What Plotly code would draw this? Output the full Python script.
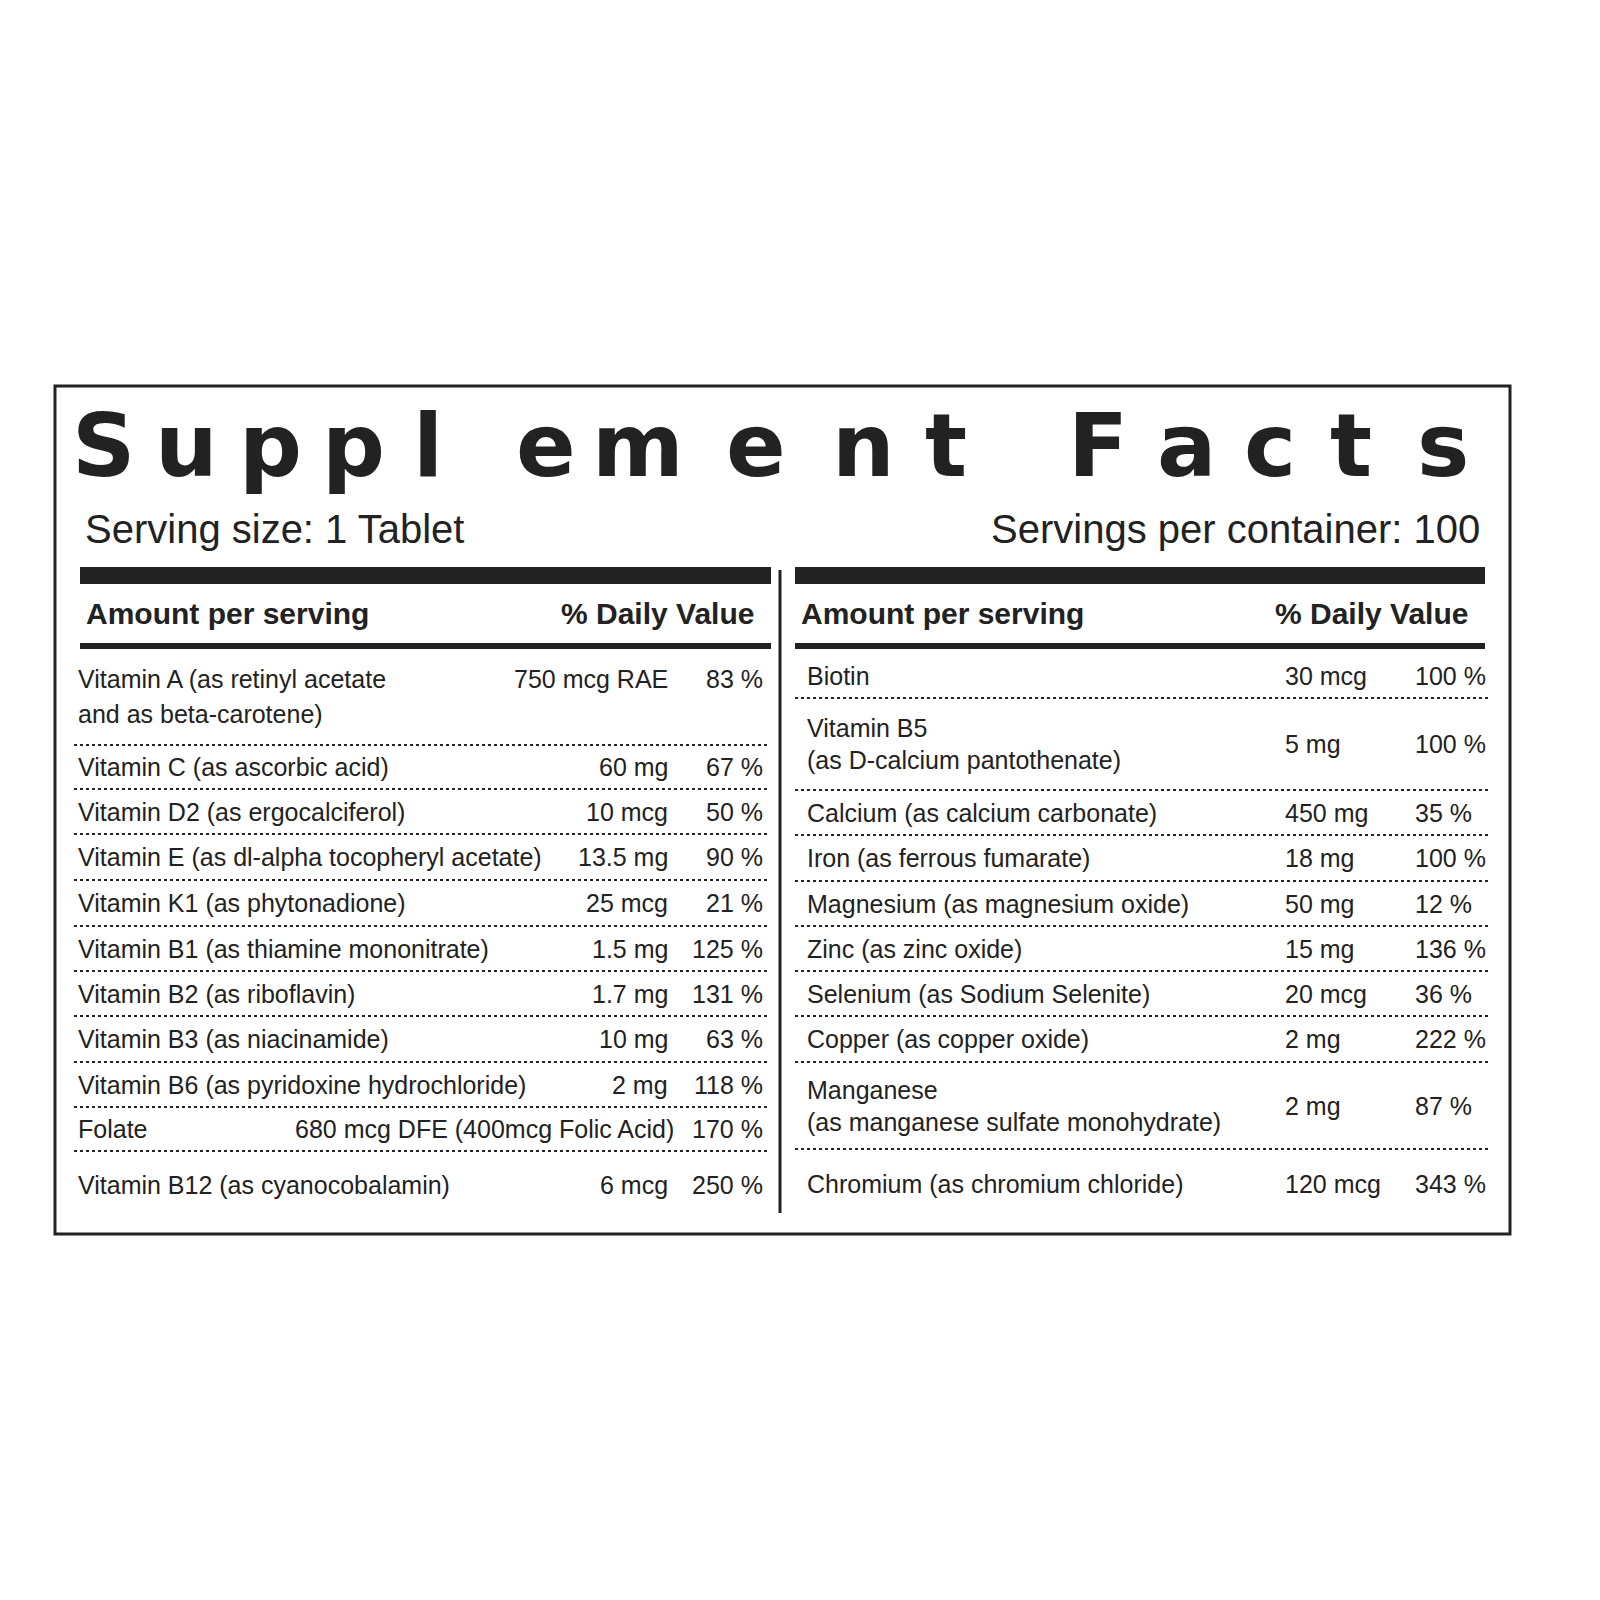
import plotly.graph_objects as go

title_chars = list("Supplement Facts")
title_x = [95, 178, 262, 345, 420, 538, 630, 748, 855, 938, 1000, 1090, 1178, 1262, 1343, 1435]

left_names = [["Vitamin A (as retinyl acetate", "and as beta-carotene)"],
              ["Vitamin C (as ascorbic acid)"], ["Vitamin D2 (as ergocalciferol)"],
              ["Vitamin E (as dl-alpha tocopheryl acetate)"], ["Vitamin K1 (as phytonadione)"],
              ["Vitamin B1 (as thiamine mononitrate)"], ["Vitamin B2 (as riboflavin)"],
              ["Vitamin B3 (as niacinamide)"], ["Vitamin B6 (as pyridoxine hydrochloride)"],
              ["Folate"], ["Vitamin B12 (as cyanocobalamin)"]]
left_amounts = ["750 mcg RAE", "60 mg", "10 mcg", "13.5 mg", "25 mcg", "1.5 mg", "1.7 mg",
                "10 mg", "2 mg", "680 mcg DFE (400mcg Folic Acid)", "6 mcg"]
left_dv = ["83 %", "67 %", "50 %", "90 %", "21 %", "125 %", "131 %", "63 %", "118 %", "170 %", "250 %"]

right_names = [["Biotin"], ["Vitamin B5", "(as D-calcium pantothenate)"],
               ["Calcium (as calcium carbonate)"], ["Iron (as ferrous fumarate)"],
               ["Magnesium (as magnesium oxide)"], ["Zinc (as zinc oxide)"],
               ["Selenium (as Sodium Selenite)"], ["Copper (as copper oxide)"],
               ["Manganese", "(as manganese sulfate monohydrate)"],
               ["Chromium (as chromium chloride)"]]
right_amounts = ["30 mcg", "5 mg", "450 mg", "18 mg", "50 mg", "15 mg", "20 mcg", "2 mg", "2 mg", "120 mcg"]
right_dv = ["100 %", "100 %", "35 %", "100 %", "12 %", "136 %", "36 %", "222 %", "87 %", "343 %"]

# row layout (pixel y of row tops / bottoms)
left_bounds = [648, 737, 781, 826, 872, 918, 963, 1008, 1054, 1099, 1143, 1210]
right_bounds = [645, 690, 782, 827, 873, 918, 963, 1008, 1054, 1141, 1210]

FONT = "Liberation Sans Narrow, Liberation Sans, Arial"
fig = go.Figure()
anns, shapes = [], []


def txt(x, y, s, size=25, anchor="left", bold=False, family=FONT):
    anns.append(dict(x=x, y=y, text=f"<b>{s}</b>" if bold else s, showarrow=False,
                     xanchor=anchor, yanchor="middle",
                     font=dict(size=size, color="#222", family=family)))


def line(x0, x1, y0, y1, w=2, dash="solid"):
    shapes.append(dict(type="line", x0=x0, x1=x1, y0=y0, y1=y1,
                       line=dict(color="#222", width=w, dash=dash)))


shapes.append(dict(type="rect", x0=47, x1=1502, y0=378, y1=1226,
                   line=dict(color="#222", width=3)))
for ch, x in zip(title_chars, title_x):
    txt(x, 437, ch, size=88, anchor="center", bold=True, family="Arial Black, DejaVu Sans")
txt(75, 521, "Serving size: 1 Tablet", size=40)
txt(1474, 521, "Servings per container: 100", size=40, anchor="right")

for xl, xr in [(72, 763), (787, 1477)]:
    shapes.append(dict(type="rect", x0=xl, x1=xr, y0=559, y1=576, fillcolor="#222", line_width=0))
    line(xl, xr, 638, 638, w=6)
    txt(xl + 4, 605, "Amount per serving", size=30, bold=True)
    txt(xr - 15, 605, "% Daily Value", size=30, anchor="right", bold=True)
line(772, 772, 562, 1205, w=3)

# left column
for i, (nm, am, dv) in enumerate(zip(left_names, left_amounts, left_dv)):
    top, bot = left_bounds[i], left_bounds[i + 1]
    if len(nm) == 2:
        txt(68, top + 23, nm[0]); txt(68, top + 58, nm[1])
        yv = top + 23
    else:
        yv = (top + bot) / 2
        txt(68, yv, nm[0])
    txt(668 if i == 9 else 662, yv, am, anchor="right")
    txt(757, yv, dv, anchor="right")
    if i < len(left_names) - 1:
        line(66, 760, bot, bot, dash="dot")

# right column
for i, (nm, am, dv) in enumerate(zip(right_names, right_amounts, right_dv)):
    top, bot = right_bounds[i], right_bounds[i + 1]
    yv = (top + bot) / 2
    if len(nm) == 2:
        txt(797, yv - 16, nm[0]); txt(797, yv + 16, nm[1])
    else:
        txt(797, yv, nm[0])
    txt(1275, yv, am)
    txt(1405, yv, dv)
    if i < len(right_names) - 1:
        line(787, 1480, bot, bot, dash="dot")

fig.update_layout(width=1600, height=1600, margin=dict(l=0, r=0, t=0, b=0),
                  plot_bgcolor="white", paper_bgcolor="white",
                  xaxis=dict(range=[0, 1600], visible=False, fixedrange=True),
                  yaxis=dict(range=[1600, 0], visible=False, fixedrange=True),
                  annotations=anns, shapes=shapes, showlegend=False)
fig.write_html("out.html")
